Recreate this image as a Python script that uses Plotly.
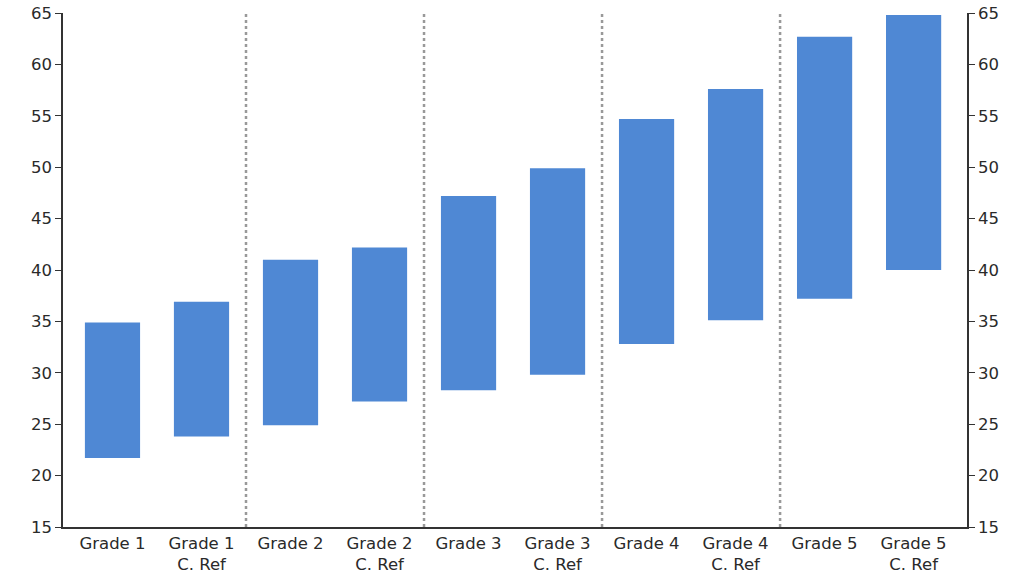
import plotly.graph_objects as go

categories = ["Grade 1", "Grade 1<br>C. Ref", "Grade 2", "Grade 2<br>C. Ref", "Grade 3",
              "Grade 3<br>C. Ref", "Grade 4", "Grade 4<br>C. Ref", "Grade 5", "Grade 5<br>C. Ref"]
low = [21.7, 23.8, 24.9, 27.2, 28.3, 29.8, 32.8, 35.1, 37.2, 40.0]
high = [34.9, 36.9, 41.0, 42.2, 47.2, 49.9, 54.7, 57.6, 62.7, 64.8]
separators = [1.5, 3.5, 5.5, 7.5]
yticks = [15, 20, 25, 30, 35, 40, 45, 50, 55, 60, 65]

xs = list(range(len(categories)))
fig = go.Figure()
fig.add_trace(go.Bar(
    x=xs, y=[h - l for h, l in zip(high, low)], base=low,
    marker=dict(color="#4f88d4", line=dict(width=0)),
    width=0.62, showlegend=False,
))
fig.add_trace(go.Scatter(x=[0], y=[None], yaxis="y2", showlegend=False, hoverinfo="skip"))

font = dict(family="'DejaVu Sans', sans-serif", size=16.5, color="#2a2a2a")
for s in separators:
    fig.add_shape(type="line", xref="x", yref="paper", x0=s, x1=s, y0=0, y1=1,
                  line=dict(color="#999999", width=2.5, dash="dot"))

fig.update_layout(
    width=1024, height=576,
    margin=dict(l=63, r=57, t=13, b=49, autoexpand=False),
    paper_bgcolor="white", plot_bgcolor="white",
    font=font,
    xaxis=dict(range=[-0.556, 9.6], tickvals=xs, ticktext=categories, showgrid=False,
               showline=True, linecolor="#333333", linewidth=1.5, ticks="", zeroline=False,
               automargin=False),
    yaxis=dict(range=[15, 65], tickvals=yticks, showgrid=False, showline=True,
               linecolor="#333333", linewidth=1.5, ticks="outside", ticklen=6,
               tickcolor="#333333", zeroline=False, automargin=False,
               ticklabeloverflow="allow"),
    yaxis2=dict(range=[15, 65], tickvals=yticks, overlaying="y", side="right",
                showgrid=False, showline=True, linecolor="#333333", linewidth=1.5,
                ticks="outside", ticklen=6, tickcolor="#333333", zeroline=False,
                automargin=False, ticklabeloverflow="allow"),
)
fig.write_html("out.html", config={"displayModeBar": False},
               post_script="document.body.style.margin='0';document.body.style.overflow='hidden';")
